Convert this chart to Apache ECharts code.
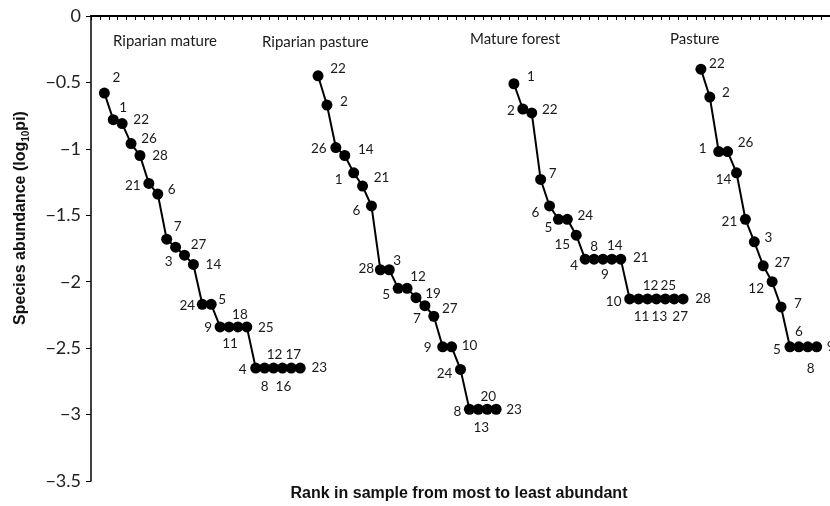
<!DOCTYPE html>
<html><head><meta charset="utf-8">
<script src="https://cdn.jsdelivr.net/npm/echarts@6/dist/echarts.min.js"></script>
<style>html,body{margin:0;padding:0;background:#fff}#c{width:830px;height:506px}</style>
</head><body><div id="c"></div>
<script>
// ---- data ----
const groupNames = ['Riparian mature', 'Riparian pasture', 'Mature forest', 'Pasture'];

const rmSpecies = ['2','1','22','26','28','21','6','7','3','27','14','24','5','9','11','18','25','4','8','12','16','17','23'];
const rmAbundance = [-0.58,-0.78,-0.81,-0.96,-1.05,-1.26,-1.34,-1.68,-1.74,-1.80,-1.87,-2.17,-2.17,-2.34,-2.34,-2.34,-2.34,-2.65,-2.65,-2.65,-2.65,-2.65,-2.65];

const rpSpecies = ['22','2','26','14','1','21','6','28','3','5','12','19','7','27','9','10','24','8','13','20','23'];
const rpAbundance = [-0.45,-0.67,-0.99,-1.05,-1.18,-1.28,-1.43,-1.91,-1.91,-2.05,-2.05,-2.12,-2.18,-2.26,-2.49,-2.49,-2.66,-2.96,-2.96,-2.96,-2.96];

const mfSpecies = ['1','2','22','7','6','5','24','15','4','8','9','14','21','10','11','12','13','25','27','28'];
const mfAbundance = [-0.51,-0.70,-0.73,-1.23,-1.43,-1.53,-1.53,-1.65,-1.83,-1.83,-1.83,-1.83,-1.83,-2.13,-2.13,-2.13,-2.13,-2.13,-2.13,-2.13];

const pSpecies = ['22','2','1','26','14','21','3','27','12','7','5','6','8','9'];
const pAbundance = [-0.40,-0.61,-1.02,-1.02,-1.18,-1.53,-1.70,-1.88,-2.00,-2.19,-2.49,-2.49,-2.49,-2.49];

const yMin = -3.5, yMax = 0, yStep = 0.5;

// ---- label placement (style) ----
const rmLabelOffsets = [[12,-15],[10,-12],[19,-4],[18,-5],[20,0],[-16,2],[14,-4],[11,-13],[-7,14],[14,-11],[20,0],[-15,1],[11,-5],[-12,1],[1,17],[2,-12],[19,1],[-13,2],[0,19],[1,-13],[1,19],[2,-13],[19,0]];
const rpLabelOffsets = [[20,-7],[17,-3],[-17,1],[21,-6],[-15,7],[19,-8],[-15,5],[-14,-1],[8,-9],[-12,6],[11,-12],[17,-4],[-8,13],[16,-8],[-15,1],[18,-1],[-16,4],[-12,2],[3,18],[1,-13],[18,0]];
const mfLabelOffsets = [[17,-7],[-12,2],[18,-3],[12,-6],[-14,7],[-10,8],[18,-4],[-14,9],[-11,7],[0,-12],[2,16],[3,-13],[20,-1],[-16,3],[3,18],[3,-13],[3,18],[3,-13],[6,18],[20,0]];
const pLabelOffsets = [[16,-6],[16,-4],[-16,-3],[18,-9],[-13,7],[-16,2],[14,-4],[19,-3],[-16,7],[17,-3],[-13,3],[0,-15],[3,22],[14,0]];

const groups = [
  {species: rmSpecies, values: rmAbundance, offsets: rmLabelOffsets},
  {species: rpSpecies, values: rpAbundance, offsets: rpLabelOffsets},
  {species: mfSpecies, values: mfAbundance, offsets: mfLabelOffsets},
  {species: pSpecies, values: pAbundance, offsets: pLabelOffsets}
];

const SYM = 11;
// rank slots: one empty slot before each group and one at the end
const categories = [];
let slot = 0;
categories.push(''); slot++;
const series = groups.map((g, gi) => {
  const start = slot;
  g.species.forEach((s, i) => { categories.push(String(i + 1)); slot++; });
  categories.push(''); slot++;
  return {
    name: groupNames[gi],
    type: 'line',
    symbol: 'circle',
    symbolSize: SYM,
    showSymbol: true,
    showAllSymbol: true,
    itemStyle: {color: '#000'},
    lineStyle: {color: '#000', width: 2},
    label: {
      show: true, color: '#1a1a1a', fontSize: 13.5, align: 'center', verticalAlign: 'middle',
      fontFamily: 'Lato', formatter: p => p.data.name
    },
    labelLayout: {hideOverlap: false},
    emphasis: {disabled: true},
    animation: false,
    data: g.species.map((s, i) => ({
      name: s, value: [start + i, g.values[i]],
      label: {position: [SYM / 2 + g.offsets[i][0], SYM / 2 + g.offsets[i][1]], align: 'center', verticalAlign: 'middle'}
    }))
  };
});

const chart = echarts.init(document.getElementById('c'), null, {renderer: 'canvas'});
chart.setOption({
  backgroundColor: '#fff',
  animation: false,
  grid: {left: 91, right: 0, top: 16, bottom: 25, containLabel: false},
  xAxis: {
    type: 'category', data: categories, position: 'top', boundaryGap: true,
    axisLine: {show: true, lineStyle: {color: '#000', width: 2}},
    axisTick: {show: true, inside: true, length: 4, interval: 0, lineStyle: {color: '#000', width: 1}},
    axisLabel: {show: false}, splitLine: {show: false}
  },
  yAxis: {
    type: 'value', min: yMin, max: yMax, interval: yStep,
    axisLine: {show: true, lineStyle: {color: '#000', width: 1.5}},
    axisTick: {show: true, inside: false, length: 5, lineStyle: {color: '#000', width: 1}},
    axisLabel: {color: '#222', fontSize: 18, fontFamily: 'Lato', margin: 10,
      formatter: v => String(v).replace('-', '\u2212')},
    splitLine: {show: false}
  },
  graphic: [
    {type: 'text', left: 113, top: 34, style: {text: groupNames[0], fontSize: 15, fontFamily: 'Lato', fill: '#1a1a1a'}},
    {type: 'text', left: 262, top: 35, style: {text: groupNames[1], fontSize: 15, fontFamily: 'Lato', fill: '#1a1a1a'}},
    {type: 'text', left: 470, top: 32, style: {text: groupNames[2], fontSize: 15, fontFamily: 'Lato', fill: '#1a1a1a'}},
    {type: 'text', left: 670, top: 32, style: {text: groupNames[3], fontSize: 15, fontFamily: 'Lato', fill: '#1a1a1a'}},
    {type: 'text', x: 459, y: 494, style: {text: 'Rank in sample from most to least abundant', fontSize: 16, fontWeight: 'bold',
      fontFamily: 'Liberation Sans', fill: '#111', align: 'center', verticalAlign: 'middle'}},
    {type: 'text', x: 21, y: 218, rotation: Math.PI / 2, style: {
      text: '{a|Species abundance (log}{s|10}{a|pi)}', align: 'center', verticalAlign: 'middle', fill: '#111',
      rich: {
        a: {fontSize: 16, fontWeight: 'bold', fontFamily: 'Liberation Sans', lineHeight: 20, verticalAlign: 'middle', fill: '#111'},
        s: {fontSize: 10, fontWeight: 'bold', fontFamily: 'Liberation Sans', lineHeight: 11, verticalAlign: 'bottom', fill: '#111'}
      }}}
  ],
  series: series
});
</script>
</body></html>
